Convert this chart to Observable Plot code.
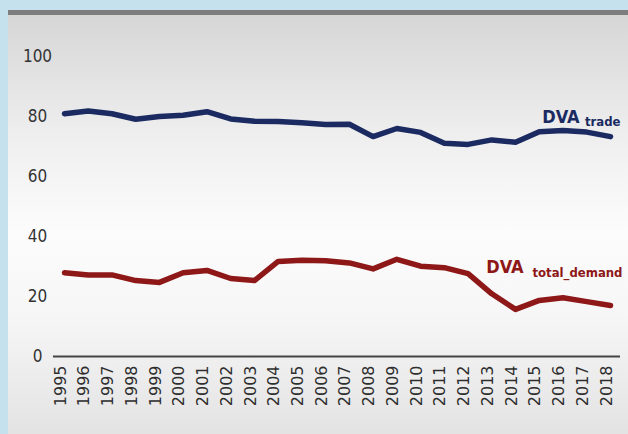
<!DOCTYPE html>
<html>
<head>
<meta charset="utf-8">
<script src="https://cdn.jsdelivr.net/npm/d3@7"></script>
<script src="https://cdn.jsdelivr.net/npm/@observablehq/plot@0.6"></script>
<style>
  html, body { margin: 0; padding: 0; }
  body { width: 628px; height: 434px; overflow: hidden; background: #c6e1ee; }
  #wrap { position: relative; width: 628px; height: 434px; }
  #panel {
    position: absolute; left: 8px; top: 10px; right: 0; bottom: 0;
    border-top: 5px solid #7d7d7d;
    background: linear-gradient(to bottom, #d6d6d6 0%, #eeeeee 28%, #fcfcfc 52%, #f6f6f6 72%, #e3e3e3 100%);
  }
  #chart { position: absolute; left: 0; top: 0; }
  #chart svg { background: transparent; overflow: visible; }
</style>
</head>
<body>
<div id="wrap"><div id="panel"></div><div id="chart"></div></div>
<script>
const years = [1995, 1996, 1997, 1998, 1999, 2000, 2001, 2002, 2003, 2004, 2005, 2006,
               2007, 2008, 2009, 2010, 2011, 2012, 2013, 2014, 2015, 2016, 2017, 2018];
const dvaTrade = [80.9, 81.8, 80.9, 79.1, 80.0, 80.4, 81.6, 79.2, 78.4, 78.3, 77.9, 77.3,
                  77.4, 73.3, 76.0, 74.7, 71.1, 70.7, 72.2, 71.4, 74.9, 75.3, 74.8, 73.3];
const dvaTotalDemand = [27.9, 27.2, 27.2, 25.3, 24.7, 27.9, 28.7, 26.0, 25.3, 31.7, 32.1, 31.9,
                        31.2, 29.2, 32.4, 30.1, 29.6, 27.6, 20.9, 15.7, 18.7, 19.6, 18.3, 17.0];
const yTicks = [0, 20, 40, 60, 80, 100];
const seriesNames = ["DVA", "DVA"];
const seriesSubs = ["trade", "total_demand"];

const navy = "#1b2b62";
const red = "#8e1717";
const condensed = "'DejaVu Sans Condensed', 'DejaVu Sans', sans-serif";

const trade = years.map((y, i) => ({year: y, value: dvaTrade[i]}));
const demand = years.map((y, i) => ({year: y, value: dvaTotalDemand[i]}));
const tradeLast = [trade[trade.length - 1]];
const demandLast = [demand[demand.length - 1]];

const chart = Plot.plot({
  width: 628,
  height: 434,
  marginLeft: 53,
  marginRight: 8,
  marginTop: 56,
  marginBottom: 78,
  style: {background: "transparent"},
  x: {domain: [1995, 2018], insetLeft: 11, insetRight: 10},
  y: {domain: [0, 100]},
  marks: [
    Plot.axisY(yTicks, {tickSize: 0, tickPadding: 16, textAnchor: "middle", fontSize: 17,
      fontFamily: condensed, fill: "#333", label: null}),
    Plot.axisX(years, {tickSize: 0, tickRotate: -90, tickPadding: 9, dx: -4,
      tickFormat: d => String(d), fontSize: 16, fontFamily: "'DejaVu Sans', sans-serif",
      fill: "#2e2e2e", label: null}),
    Plot.ruleY([0], {stroke: "#444", strokeWidth: 2.2}),
    Plot.line(trade, {x: "year", y: "value", stroke: navy, strokeWidth: 5.5,
      strokeLinecap: "round", strokeLinejoin: "round"}),
    Plot.line(demand, {x: "year", y: "value", stroke: red, strokeWidth: 5.5,
      strokeLinecap: "round", strokeLinejoin: "round"}),
    Plot.text(tradeLast, {x: "year", y: "value", text: () => seriesNames[0],
      textAnchor: "end", lineAnchor: "bottom", dx: -31, dy: -14,
      fontSize: 18, fontWeight: "bold", fontFamily: condensed, fill: navy}),
    Plot.text(tradeLast, {x: "year", y: "value", text: () => seriesSubs[0],
      textAnchor: "end", lineAnchor: "bottom", dx: 10, dy: -11,
      fontSize: 13, fontWeight: "bold", fontFamily: condensed, fill: navy}),
    Plot.text(demandLast, {x: "year", y: "value", text: () => seriesNames[1],
      textAnchor: "end", lineAnchor: "bottom", dx: -87, dy: -33,
      fontSize: 18, fontWeight: "bold", fontFamily: condensed, fill: red}),
    Plot.text(demandLast, {x: "year", y: "value", text: () => seriesSubs[1],
      textAnchor: "end", lineAnchor: "bottom", dx: 12, dy: -29,
      fontSize: 13, fontWeight: "bold", fontFamily: condensed, fill: red})
  ]
});
document.getElementById("chart").appendChild(chart);
</script>
</body>
</html>
